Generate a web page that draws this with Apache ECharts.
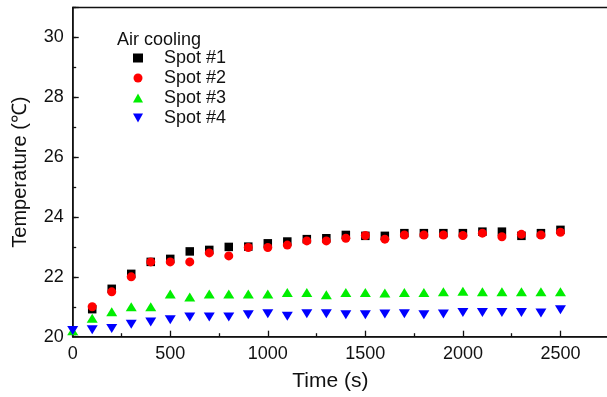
<!DOCTYPE html>
<html>
<head>
<meta charset="utf-8">
<script src="https://cdn.jsdelivr.net/npm/echarts@6/dist/echarts.min.js"></script>
<style>
html,body{margin:0;padding:0;background:#fff;}
#chart{width:607px;height:397px;}
</style>
</head>
<body>
<div id="chart"></div>
<script>
// Data
const times = [0,100,200,300,400,500,600,700,800,900,1000,1100,1200,1300,1400,1500,1600,1700,1800,1900,2000,2100,2200,2300,2400,2500];
const spot1 = [null,20.92,21.6,22.1,22.5,22.6,22.85,22.9,23.0,23.01,23.12,23.18,23.26,23.29,23.4,23.37,23.37,23.46,23.46,23.46,23.46,23.51,23.51,23.37,23.46,23.57];
const spot2 = [null,21.0,21.5,22.0,22.5,22.5,22.5,22.8,22.7,22.98,22.98,23.06,23.2,23.2,23.29,23.38,23.26,23.4,23.4,23.4,23.38,23.46,23.34,23.42,23.4,23.49];
const spot3 = [20.2,20.62,20.83,21.0,21.0,21.43,21.33,21.43,21.43,21.43,21.43,21.48,21.48,21.4,21.48,21.48,21.46,21.48,21.48,21.5,21.52,21.5,21.5,21.5,21.5,21.5];
const spot4 = [20.21,20.23,20.27,20.42,20.49,20.57,20.66,20.66,20.66,20.73,20.77,20.68,20.77,20.77,20.73,20.73,20.76,20.77,20.73,20.76,20.81,20.81,20.81,20.81,20.79,20.9];
const seriesNames = ['Spot #1','Spot #2','Spot #3','Spot #4'];
const legendTitle = 'Air cooling';
const xTitle = 'Time (s)';
const yTitle = 'Temperature (℃)';

const FONT = 'Liberation Sans';
const DOWN_TRI = 'path://M0,0L10,0L5,9Z';
const pairs = arr => times.map((t,i)=>[t,arr[i]]).filter(p=>p[1]!==null);

const chart = echarts.init(document.getElementById('chart'), null, {renderer:'canvas'});
chart.setOption({
  animation:false,
  backgroundColor:'#fff',
  title:{text:legendTitle,left:112,top:26,textStyle:{fontFamily:FONT,fontSize:18,fontWeight:'normal',color:'#111'}},
  legend:{
    orient:'vertical',left:128,top:43,itemWidth:10,itemHeight:9,itemGap:0,
    textStyle:{fontFamily:FONT,fontSize:18,color:'#111',lineHeight:20,padding:[0,0,0,16]},
    data:[
      {name:seriesNames[0],icon:'rect'},
      {name:seriesNames[1],icon:'circle'},
      {name:seriesNames[2],icon:'triangle'},
      {name:seriesNames[3],icon:DOWN_TRI}
    ]
  },
  grid:{left:72.7,top:7.5,bottom:60.3,right:-51,outerBoundsMode:'none',containLabel:false,show:true,borderColor:'#111',borderWidth:1.3,backgroundColor:'transparent'},
  xAxis:{
    type:'value',min:0,max:3000,interval:500,
    name:xTitle,nameLocation:'middle',nameGap:34,
    nameTextStyle:{fontFamily:FONT,fontSize:21,color:'#111',padding:[0,70,0,0]},
    axisLine:{show:true,lineStyle:{color:'#111',width:1.5}},
    axisTick:{show:true,inside:true,length:6,lineStyle:{color:'#111',width:1.3}},
    minorTick:{show:true,splitNumber:2,length:3.5,lineStyle:{color:'#111',width:1.3}},
    axisLabel:{fontFamily:FONT,fontSize:18,color:'#111',margin:8,formatter:v=>String(v)},
    splitLine:{show:false}
  },
  yAxis:[{
    type:'value',min:20,max:31,interval:2,
    name:yTitle,nameLocation:'middle',nameGap:42,
    nameTextStyle:{fontFamily:FONT,fontSize:20,color:'#111'},
    axisLine:{show:true,lineStyle:{color:'#111',width:1.5}},
    axisTick:{show:true,inside:true,length:6,lineStyle:{color:'#111',width:1.3}},
    axisLabel:{fontFamily:FONT,fontSize:18,color:'#111',margin:9,formatter:v=>(v%2===0?String(v):'')},
    splitLine:{show:false}
  },{
    type:'value',min:20,max:31,interval:1,position:'left',
    axisLine:{show:false},
    axisTick:{show:true,inside:true,length:3.5,lineStyle:{color:'#111',width:1.3}},
    axisLabel:{show:false},
    splitLine:{show:false}
  }],
  series:[
    {name:seriesNames[0],type:'scatter',data:pairs(spot1),symbol:'rect',symbolSize:8.5,itemStyle:{color:'#000000',opacity:1}},
    {name:seriesNames[1],type:'scatter',data:pairs(spot2),symbol:'circle',symbolSize:9,itemStyle:{color:'#ff0000',opacity:1}},
    {name:seriesNames[2],type:'scatter',data:pairs(spot3),symbol:'triangle',symbolSize:[11,9],itemStyle:{color:'#00ee00',opacity:1}},
    {name:seriesNames[3],type:'scatter',data:pairs(spot4),symbol:DOWN_TRI,symbolSize:[11,9],itemStyle:{color:'#0000ff',opacity:1}}
  ]
});
</script>
</body>
</html>
